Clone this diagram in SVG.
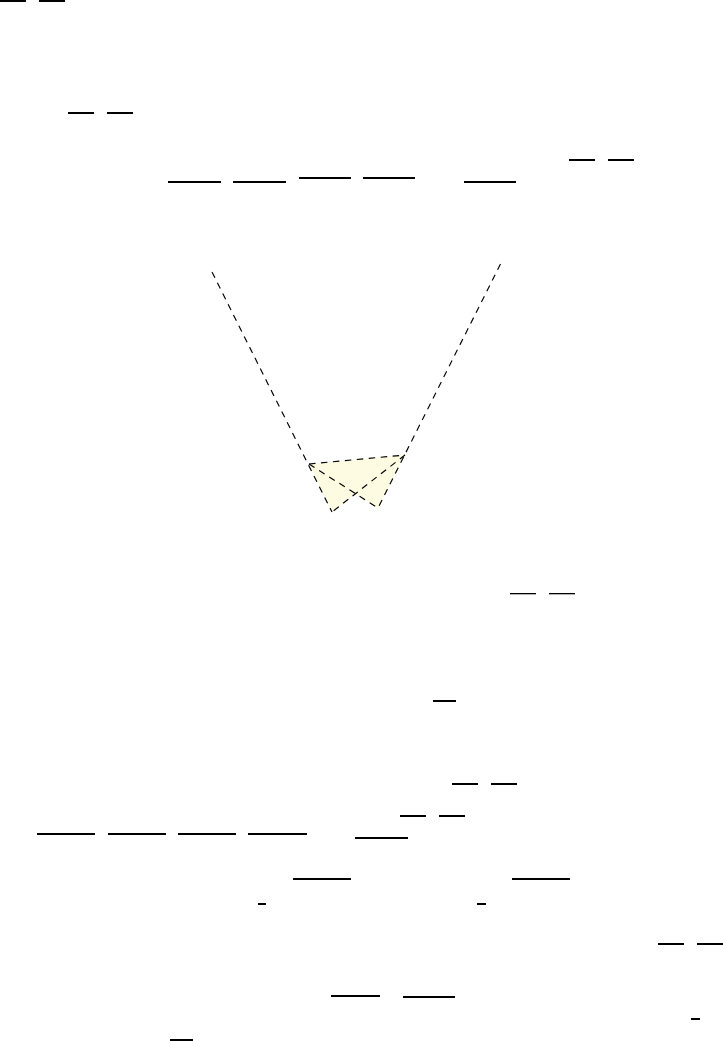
<svg xmlns="http://www.w3.org/2000/svg" width="723" height="1041" viewBox="0 0 723 1041">
<style>
.bar{fill:#000}
.dash{fill:none;stroke:#000;stroke-width:1.15;stroke-dasharray:6.5 5.5}
.shade{fill:#fdfbe2;stroke:none}
</style>
<rect width="723" height="1041" fill="#fff"/>
<g id="figure">
<polygon class="shade" points="309,464 405,455 378,508 355.5,493.6 332,512"/>
<path class="dash" d="M212,272L332,512"/>
<path class="dash" d="M500.5,264L378,508"/>
<path class="dash" d="M309,464L405,455"/>
<path class="dash" d="M309,464L378,508"/>
<path class="dash" d="M405,455L332,512"/>
</g>
<g id="fraction-bars">
<rect class="bar" x="0" y="0" width="26" height="2"/>
<rect class="bar" x="39" y="0" width="26" height="2"/>
<rect class="bar" x="68" y="112" width="26" height="2"/>
<rect class="bar" x="107" y="112" width="26" height="2"/>
<rect class="bar" x="168" y="181" width="53" height="2"/>
<rect class="bar" x="233" y="181" width="53" height="2"/>
<rect class="bar" x="299" y="177" width="52" height="2"/>
<rect class="bar" x="363" y="177" width="52" height="2"/>
<rect class="bar" x="464" y="181" width="52" height="2"/>
<rect class="bar" x="569" y="159" width="26" height="2"/>
<rect class="bar" x="608" y="159" width="26" height="2"/>
<rect class="bar" x="510" y="593" width="26" height="1.3"/>
<rect class="bar" x="549" y="593" width="26" height="1.3"/>
<rect class="bar" x="433" y="700" width="23" height="2"/>
<rect class="bar" x="452" y="783" width="26" height="2"/>
<rect class="bar" x="491" y="783" width="26" height="2"/>
<rect class="bar" x="400" y="815" width="26" height="2"/>
<rect class="bar" x="439" y="815" width="26" height="2"/>
<rect class="bar" x="37" y="833" width="58" height="2"/>
<rect class="bar" x="108" y="833" width="58" height="2"/>
<rect class="bar" x="178" y="833" width="58" height="2"/>
<rect class="bar" x="248" y="833" width="59" height="2"/>
<rect class="bar" x="355" y="837" width="53" height="2"/>
<rect class="bar" x="293" y="878" width="58" height="2"/>
<rect class="bar" x="512" y="878" width="58" height="2"/>
<rect class="bar" x="258" y="903" width="8" height="2"/>
<rect class="bar" x="477" y="903" width="9" height="2"/>
<rect class="bar" x="658" y="943" width="26" height="2"/>
<rect class="bar" x="697" y="943" width="26" height="2"/>
<rect class="bar" x="331" y="995" width="49" height="2"/>
<rect class="bar" x="403" y="996" width="52" height="2"/>
<rect class="bar" x="691" y="1018" width="9" height="2"/>
<rect class="bar" x="170" y="1039" width="23" height="2"/>
</g>
</svg>
